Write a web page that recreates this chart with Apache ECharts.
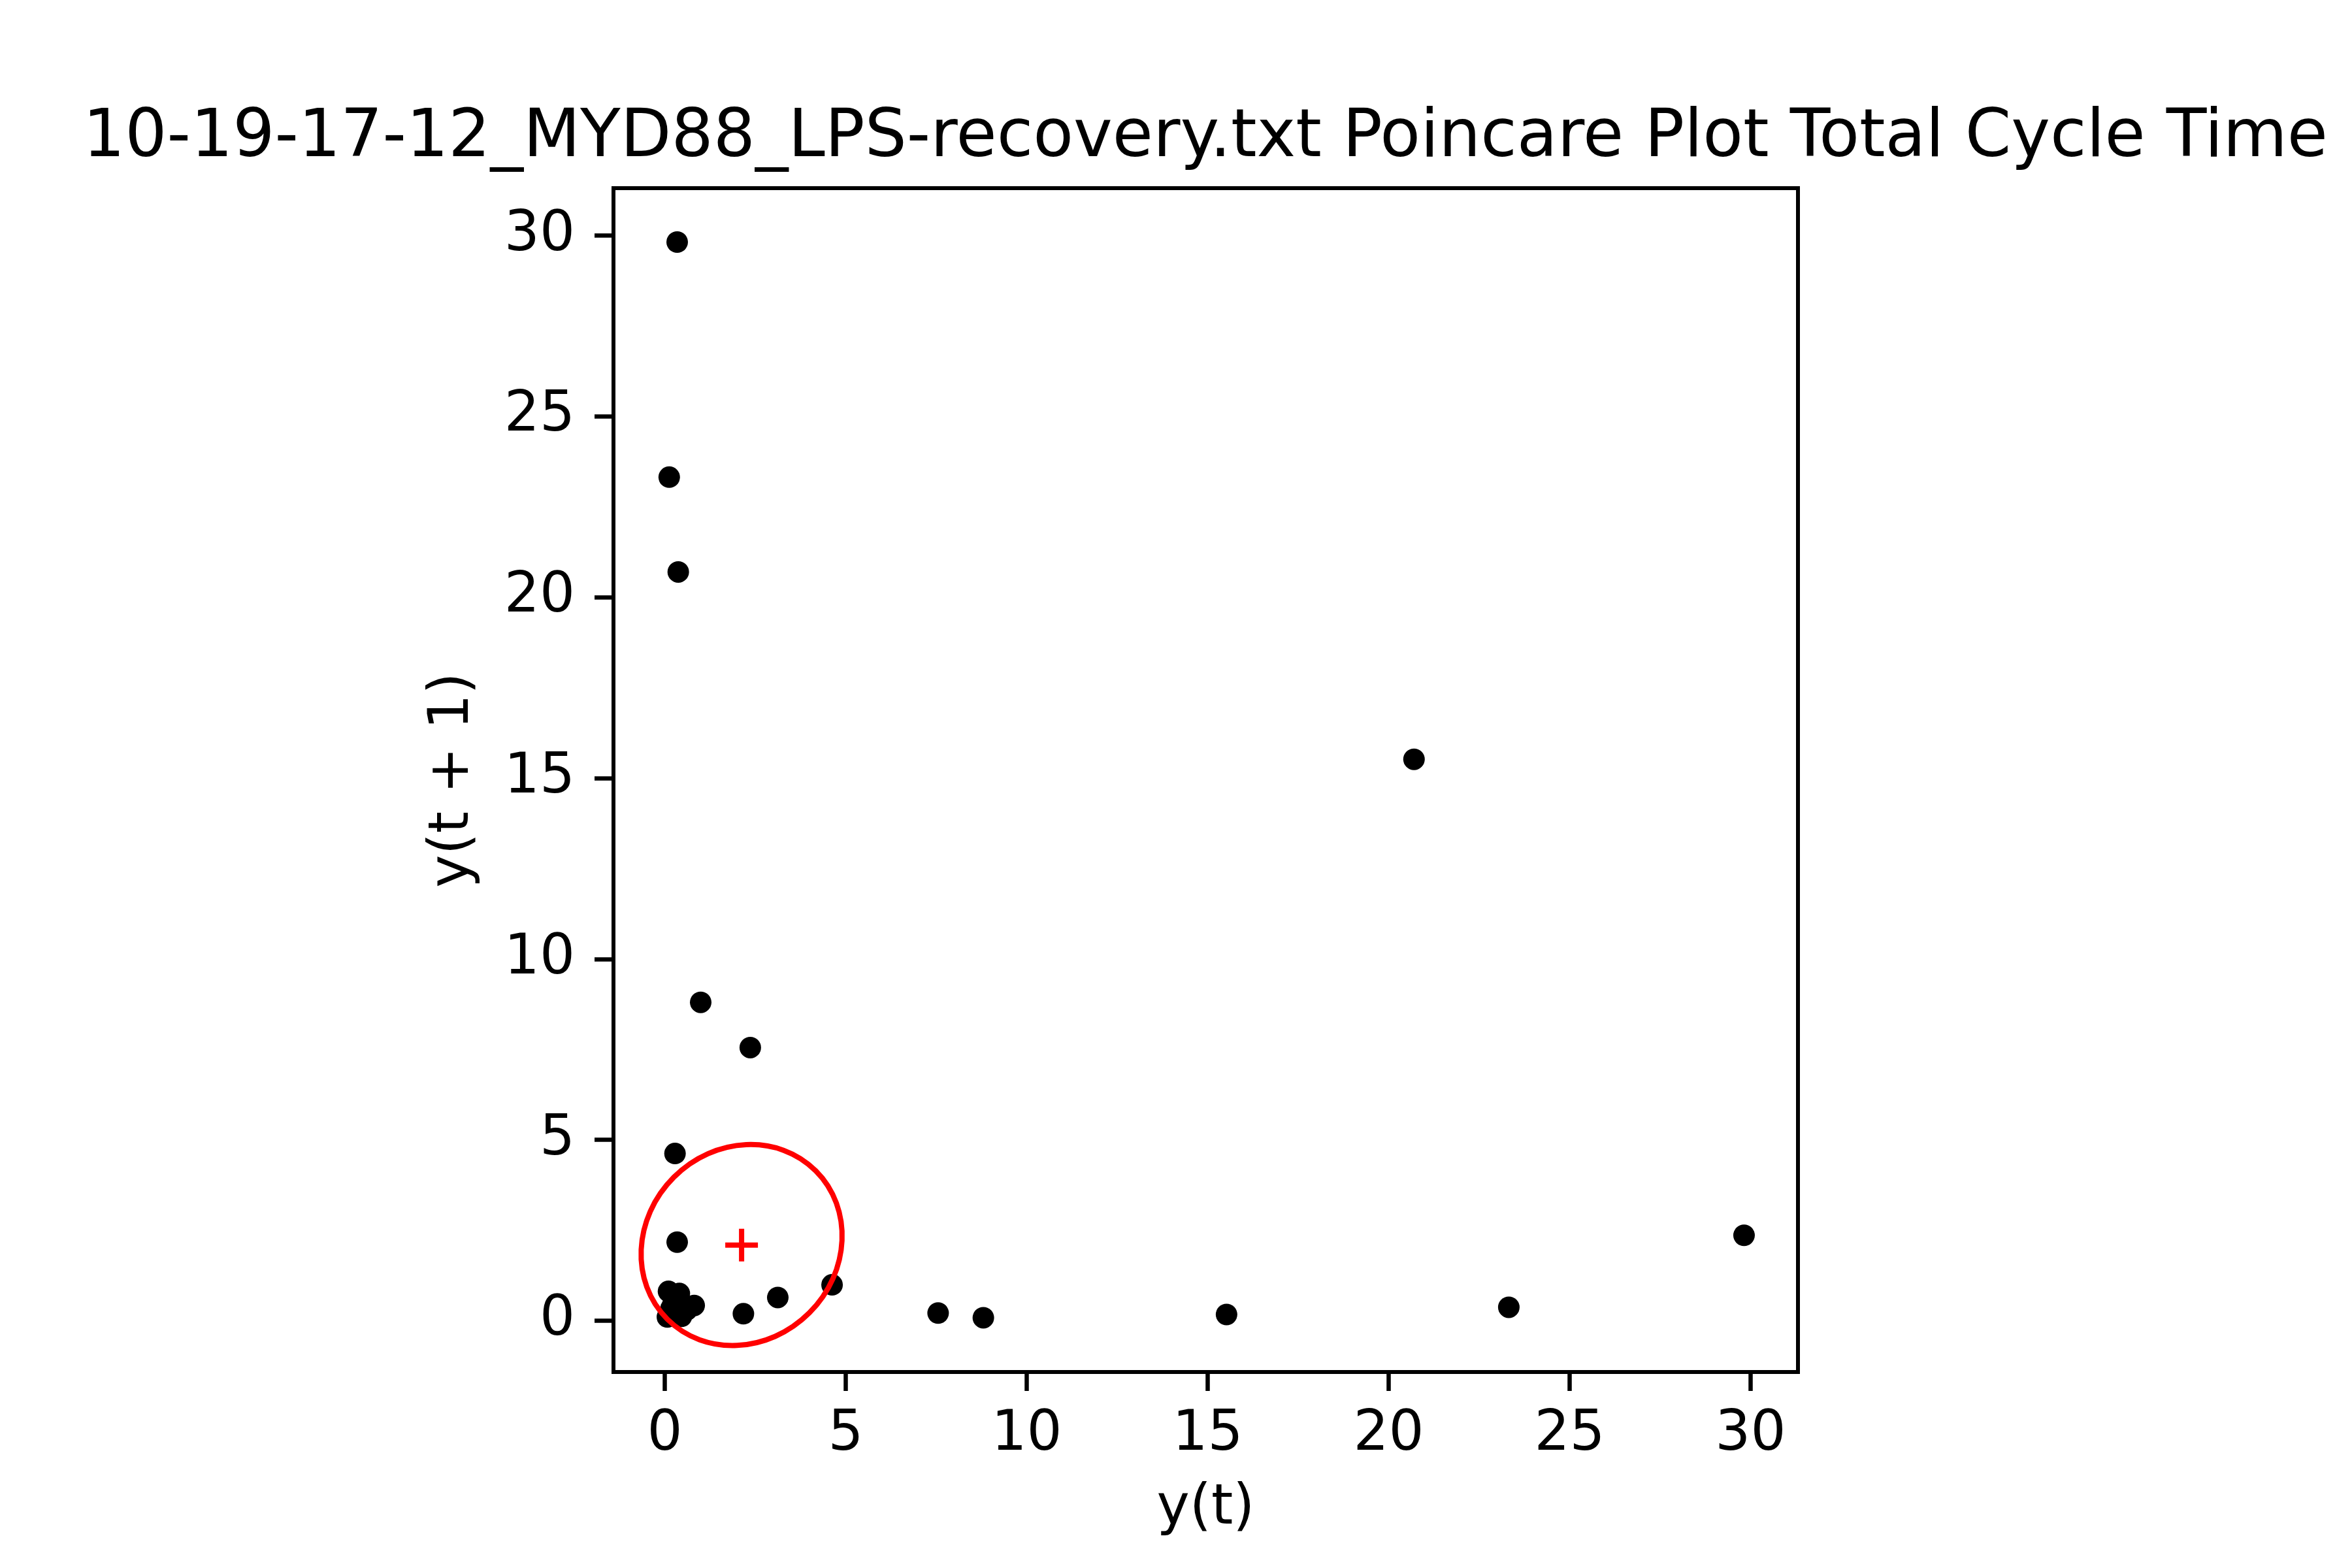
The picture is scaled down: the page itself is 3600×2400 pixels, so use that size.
<!DOCTYPE html>
<html>
<head>
<meta charset="utf-8">
<title>Poincare Plot</title>
<script src="https://cdn.jsdelivr.net/npm/echarts@6/dist/echarts.min.js"></script>
<style>
    html, body { margin: 0; padding: 0; background: #fff; }
    #main { width: 3600px; height: 2400px; }
</style>
</head>
<body>
<div id="main"></div>
<script>
// y(t) and y(t + 1)
var pointX = [0.34, 0.12, 0.37, 20.70, 0.99, 2.36, 0.28, 0.34, 4.62, 3.12, 2.17, 7.55, 8.80, 15.52, 23.32, 29.82,
    0.10, 0.40, 0.81, 0.07, 0.46, 0.61, 0.22, 0.17];
var pointY = [29.82, 23.32, 20.70, 15.52, 8.80, 7.55, 4.62, 2.17, 0.99, 0.64, 0.19, 0.21, 0.08, 0.17, 0.37, 2.36,
    0.81, 0.75, 0.42, 0.10, 0.12, 0.30, 0.45, 0.34];

// centroid (+) and the SD ellipse round it
var centroid = [2.12, 2.09];
var ellipseAxes = [2.90, 2.65];   // half length along identity line, half width across it
var ellipseAngle = 45;

var ticks = [0, 5, 10, 15, 20, 25, 30];
var axisMin = -1.42;
var axisMax = 31.31;

var titleText = '10-19-17-12_MYD88_LPS-recovery.txt Poincare Plot Total Cycle Time';
var xName = 'y(t)';
var yName = 'y(t + 1)';

var points = pointX.map(function (x, i) {
    return [x, pointY[i]];
});

var fontFamily = 'DejaVu Sans';
var chart = echarts.init(document.getElementById('main'), null, {renderer: 'canvas'});

function axisStyle(name, gap, rotate) {
    return {
        type: 'value',
        min: axisMin,
        max: axisMax,
        name: name,
        nameLocation: 'middle',
        nameGap: gap,
        nameRotate: rotate,
        nameTextStyle: {color: '#000', fontSize: 85, fontFamily: fontFamily},
        axisLine: {show: true, onZero: false, lineStyle: {color: '#000', width: 6}},
        axisTick: {
            show: true,
            inside: false,
            length: 29,
            customValues: ticks,
            lineStyle: {color: '#000', width: 6.5}
        },
        axisLabel: {
            show: true,
            customValues: ticks,
            color: '#000',
            fontSize: 85,
            fontFamily: fontFamily
        },
        splitLine: {show: false}
    };
}

var xAxis = axisStyle(xName, 167, 0);
xAxis.axisLabel.margin = 54;
var yAxis = axisStyle(yName, 203, 90);
yAxis.axisLabel.margin = 59;
yAxis.axisLabel.padding = [10, 0, 0, 0];

var option = {
    backgroundColor: '#fff',
    animation: false,
    title: {
        text: titleText,
        left: 1845,
        top: 162,
        padding: 0,
        textAlign: 'center',
        textStyle: {color: '#000', fontSize: 101, fontWeight: 'normal', fontFamily: fontFamily}
    },
    grid: {
        left: 939,
        top: 288,
        width: 1813,
        height: 1812,
        show: true,
        borderColor: '#000',
        borderWidth: 6,
        backgroundColor: 'transparent'
    },
    xAxis: xAxis,
    yAxis: yAxis,
    series: [
        {
            name: 'points',
            type: 'scatter',
            symbol: 'circle',
            symbolSize: 33,
            itemStyle: {color: '#000', opacity: 1},
            data: points,
            z: 3
        },
        {
            name: 'centroid',
            type: 'scatter',
            symbol: 'path://M0,42H100V58H0Z M42,0H58V100H42Z',
            symbolSize: 50,
            itemStyle: {color: '#ff0000', opacity: 1},
            data: [centroid],
            z: 4
        },
        {
            name: 'ellipse',
            type: 'custom',
            z: 5,
            data: [[centroid[0], centroid[1], ellipseAxes[0], ellipseAxes[1], ellipseAngle]],
            renderItem: function (params, api) {
                var c = api.coord([api.value(0), api.value(1)]);
                var s = api.size([api.value(2), api.value(3)]);
                return {
                    type: 'ellipse',
                    x: c[0],
                    y: c[1],
                    rotation: api.value(4) * Math.PI / 180,
                    shape: {cx: 0, cy: 0, rx: s[0], ry: s[1]},
                    style: {fill: 'none', stroke: '#ff0000', lineWidth: 8}
                };
            }
        }
    ]
};

chart.setOption(option);
</script>
</body>
</html>
